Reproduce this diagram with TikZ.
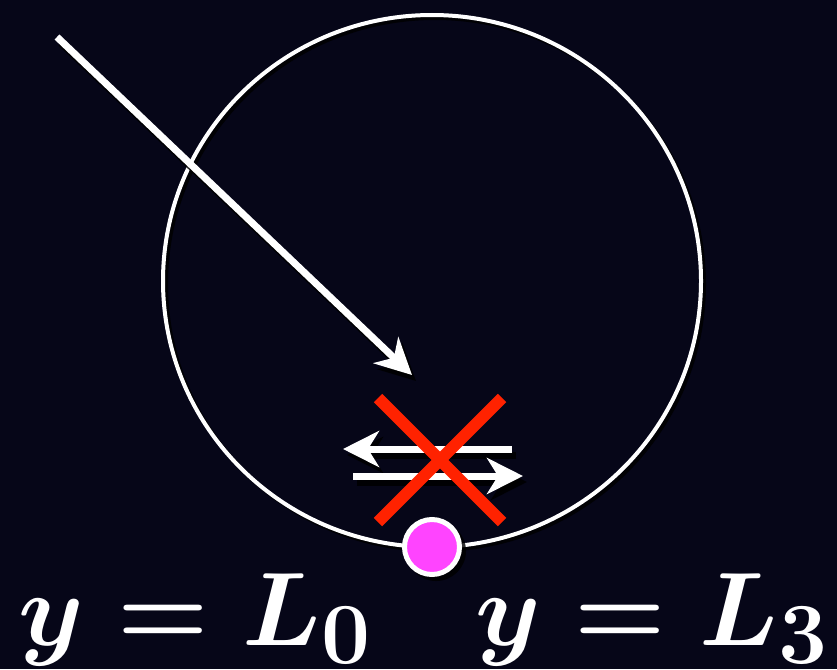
\documentclass[tikz,border=0pt]{standalone}
\usetikzlibrary{arrows.meta}
\definecolor{bgnavy}{RGB}{6,6,24}
\definecolor{xred}{RGB}{255,34,0}
\definecolor{dotmag}{RGB}{255,68,255}
\tikzset{
  whiteline/.style={draw=white, line width=7pt},
  shadowline/.style={draw=black, line width=7pt, opacity=0.85},
  headtip/.style={-{Stealth[length=36pt,width=36pt,inset=11pt]}},
  crossbar/.style={draw=xred, line width=12pt},
  lbl/.style={text=white, inner sep=0pt, anchor=base west, font=\Huge\boldmath, scale=4.2},
}
\begin{document}
\begin{tikzpicture}[x=1pt,y=-1pt]
\fill[bgnavy] (0,0) rectangle (837,669);
\useasboundingbox (0,0) rectangle (837,669);
% circle
\draw[black, line width=4pt, opacity=0.8] (435,284) ellipse [x radius=269pt, y radius=266pt];
\draw[white, line width=4pt] (432,281) ellipse [x radius=269pt, y radius=266pt];
% long arrow
\coordinate (a0) at (57,37);
\coordinate (a1) at (412,375);
\coordinate (a0s) at (61,43);
\coordinate (a1s) at (416,381);
\draw[shadowline, headtip] (a0s) -- (a1s);
\draw[whiteline, headtip] (a0) -- (a1);
% horizontal arrows
\coordinate (u0) at (512,449);
\coordinate (u1) at (343,449);
\coordinate (l0) at (353,476);
\coordinate (l1) at (523,476);
\coordinate (u0s) at (516,455);
\coordinate (u1s) at (347,455);
\coordinate (l0s) at (357,482);
\coordinate (l1s) at (527,482);
\draw[shadowline, headtip] (u0s) -- (u1s);
\draw[shadowline, headtip] (l0s) -- (l1s);
\draw[whiteline, headtip] (u0) -- (u1);
\draw[whiteline, headtip] (l0) -- (l1);
% red cross
\coordinate (c1) at (378,398);
\coordinate (c2) at (502,522);
\coordinate (c3) at (502,398);
\coordinate (c4) at (378,522);
\draw[crossbar] (c1) -- (c2);
\draw[crossbar] (c3) -- (c4);
% magenta dot
\fill[black, opacity=0.8] (436,551) circle (30pt);
\node (dot) [circle, fill=dotmag, draw=white, line width=5pt, minimum size=55pt, inner sep=0pt] at (432,547) {};
% labels
\node (lab0) [lbl] at (18,645) {$y = L_0$};
\node (lab3) [lbl] at (475,645) {$y = L_3$};
\end{tikzpicture}
\end{document}
